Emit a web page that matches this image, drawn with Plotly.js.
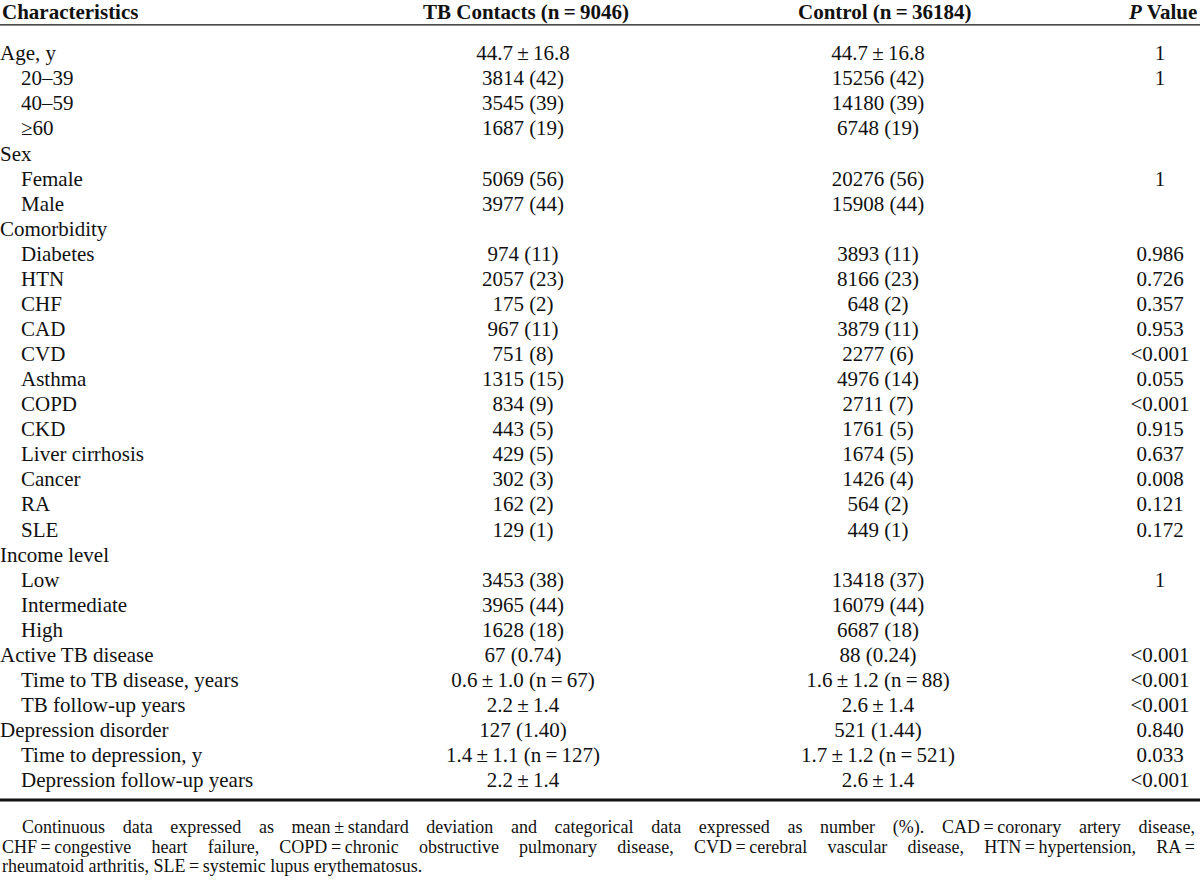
<!DOCTYPE html>
<html>
<head>
<meta charset="utf-8">
<script src="https://cdn.plot.ly/plotly-3.0.1.min.js"></script>
<style>
html, body { margin: 0; padding: 0; background: #fff; }
</style>
</head>
<body>
<div id="myDiv" style="width:1200px;height:889px;"></div>
<script>
var headers = ['Characteristics', 'TB Contacts (n\u2009=\u20099046)', 'Control (n\u2009=\u200936184)', '<i>P</i> Value'];

var rowLabels = ['Age, y', '20\u201339', '40\u201359', '\u226560', 'Sex', 'Female', 'Male', 'Comorbidity',
    'Diabetes', 'HTN', 'CHF', 'CAD', 'CVD', 'Asthma', 'COPD', 'CKD', 'Liver cirrhosis', 'Cancer', 'RA', 'SLE',
    'Income level', 'Low', 'Intermediate', 'High', 'Active TB disease', 'Time to TB disease, years',
    'TB follow-up years', 'Depression disorder', 'Time to depression, y', 'Depression follow-up years'];
var isSub = [0, 1, 1, 1, 0, 1, 1, 0, 1, 1, 1, 1, 1, 1, 1, 1, 1, 1, 1, 1, 0, 1, 1, 1, 0, 1, 1, 0, 1, 1];

var tbContacts = ['44.7\u2009\u00b1\u200916.8', '3814 (42)', '3545 (39)', '1687 (19)', '', '5069 (56)', '3977 (44)', '',
    '974 (11)', '2057 (23)', '175 (2)', '967 (11)', '751 (8)', '1315 (15)', '834 (9)', '443 (5)', '429 (5)',
    '302 (3)', '162 (2)', '129 (1)', '', '3453 (38)', '3965 (44)', '1628 (18)', '67 (0.74)',
    '0.6\u2009\u00b1\u20091.0 (n\u2009=\u200967)', '2.2\u2009\u00b1\u20091.4', '127 (1.40)',
    '1.4\u2009\u00b1\u20091.1 (n\u2009=\u2009127)', '2.2\u2009\u00b1\u20091.4'];
var controls = ['44.7\u2009\u00b1\u200916.8', '15256 (42)', '14180 (39)', '6748 (19)', '', '20276 (56)', '15908 (44)', '',
    '3893 (11)', '8166 (23)', '648 (2)', '3879 (11)', '2277 (6)', '4976 (14)', '2711 (7)', '1761 (5)', '1674 (5)',
    '1426 (4)', '564 (2)', '449 (1)', '', '13418 (37)', '16079 (44)', '6687 (18)', '88 (0.24)',
    '1.6\u2009\u00b1\u20091.2 (n\u2009=\u200988)', '2.6\u2009\u00b1\u20091.4', '521 (1.44)',
    '1.7\u2009\u00b1\u20091.2 (n\u2009=\u2009521)', '2.6\u2009\u00b1\u20091.4'];
var pValues = ['1', '1', '', '', '', '1', '', '', '0.986', '0.726', '0.357', '0.953', '&lt;0.001', '0.055',
    '&lt;0.001', '0.915', '0.637', '0.008', '0.121', '0.172', '', '1', '', '', '&lt;0.001', '&lt;0.001',
    '&lt;0.001', '0.840', '0.033', '&lt;0.001'];

var footnote = [
    'Continuous data expressed as mean\u2009\u00b1\u2009standard deviation and categorical data expressed as number (%). CAD\u2009=\u2009coronary artery disease,',
    'CHF\u2009=\u2009congestive heart failure, COPD\u2009=\u2009chronic obstructive pulmonary disease, CVD\u2009=\u2009cerebral vascular disease, HTN\u2009=\u2009hypertension, RA\u2009=',
    'rheumatoid arthritis, SLE\u2009=\u2009systemic lupus erythematosus.'
];

var font = { family: 'Liberation Serif, Times New Roman, serif', size: 21, color: '#111' };
var rowIdx = rowLabels.map(function (d, i) { return i; });

function col(x, text, pos) {
    return {
        x: x, y: rowIdx, text: text, mode: 'text', type: 'scatter',
        textposition: pos, textfont: font, hoverinfo: 'skip', showlegend: false, cliponaxis: false
    };
}

var data = [
    col(isSub.map(function (s) { return s ? 21 : 0; }), rowLabels, 'middle right'),
    col(rowIdx.map(function () { return 523; }), tbContacts, 'middle center'),
    col(rowIdx.map(function () { return 878; }), controls, 'middle center'),
    col(rowIdx.map(function () { return 1160; }), pValues, 'middle center')
];

var headX = [0, 526, 884, 1199];
var headAnchor = ['left', 'center', 'center', 'right'];
var annotations = headers.map(function (h, i) {
    return {
        x: headX[i], y: -1.7, xref: 'x', yref: 'y', text: '<b>' + h + '</b>', showarrow: false,
        xanchor: headAnchor[i], yanchor: 'middle', font: font
    };
});
// footnote lines, first one indented
var footY = [30.83, 31.59, 32.35];
footnote.forEach(function (t, i) {
    annotations.push({
        x: i === 0 ? 20 : 0, y: footY[i], xref: 'x', yref: 'y', text: t, showarrow: false,
        xanchor: 'left', yanchor: 'middle', align: 'left',
        font: { family: font.family, size: 18, color: '#111' }
    });
});

var layout = {
    width: 1200,
    height: 889,
    margin: { l: 0, r: 0, t: 0, b: 0 },
    paper_bgcolor: '#fff',
    plot_bgcolor: '#fff',
    xaxis: { range: [0, 1200], visible: false, fixedrange: true },
    yaxis: { range: [33.27, -2.194], visible: false, fixedrange: true },
    annotations: annotations,
    shapes: [
        { type: 'line', xref: 'x', yref: 'y', x0: 0, x1: 1200, y0: -1.2, y1: -1.2, line: { color: '#111', width: 1.3 } },
        { type: 'line', xref: 'x', yref: 'y', x0: 0, x1: 1200, y0: 29.72, y1: 29.72, line: { color: '#111', width: 3 } }
    ]
};

Plotly.newPlot('myDiv', data, layout, { displayModeBar: false, staticPlot: true }).then(function (gd) {
    // justify the first two footnote lines to the right edge
    var texts = gd.querySelectorAll('.annotation-text');
    [0, 1].forEach(function (i) {
        var el = texts[headers.length + i];
        if (!el) return;
        var left = i === 0 ? 20 : 0;
        var len = el.getComputedTextLength();
        var gaps = footnote[i].split(' ').length - 1;
        var extra = (1193 - left - len) / gaps;
        if (extra > 0) el.style.wordSpacing = extra + 'px';
    });
});
</script>
</body>
</html>
